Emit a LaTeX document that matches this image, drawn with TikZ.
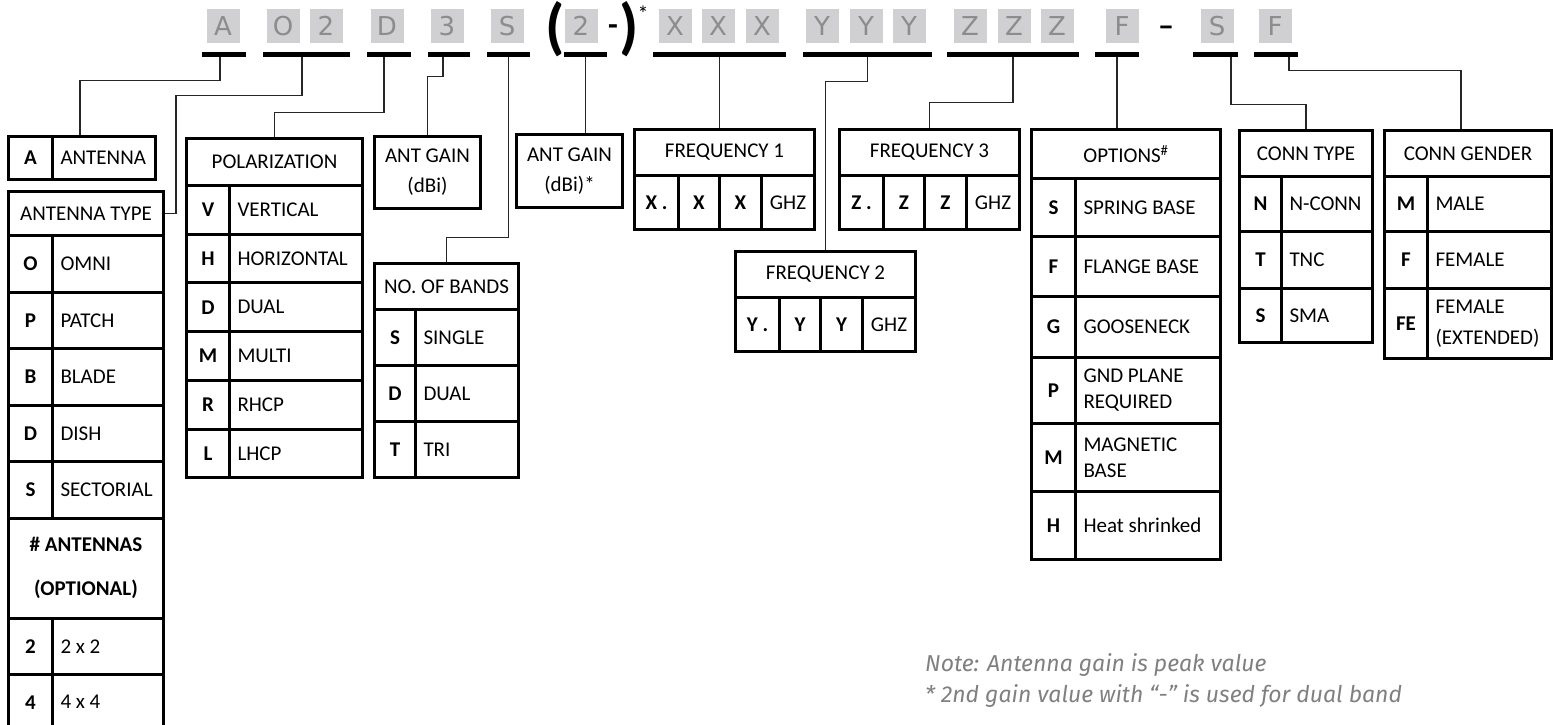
\documentclass[tikz,border=0pt]{standalone}
\usepackage{fontspec}
\setmainfont{Carlito}
\newfontfamily\codefont{DejaVu Sans}
\newfontfamily\notefont{Fira Sans}

\definecolor{codebg}{RGB}{208,208,210}
\definecolor{codefg}{RGB}{140,140,140}
\definecolor{notegray}{RGB}{128,128,128}
\newcommand\tabfont{\fontsize{21}{26}\selectfont}

\tikzset{
  codebox/.style={fill=codebg, text=codefg, minimum width=33pt, minimum height=34pt, inner sep=0pt, font=\codefont\fontsize{26}{26}\selectfont},
  bar/.style={fill=black, inner sep=0pt, minimum height=5pt},
  link/.style={line width=1.2pt, black!85},
  cell/.style={draw, line width=3pt, anchor=north west, inner xsep=8pt, inner ysep=0pt, font=\tabfont, align=flush left},
  keycell/.style={cell, align=center, inner xsep=3pt, font=\tabfont\bfseries},
  headcell/.style={cell, align=center, inner xsep=4pt},
  note/.style={anchor=base west, text=notegray, inner sep=0pt, font=\notefont\itshape\fontsize{23}{23}\selectfont},
}

\begin{document}
\begin{tikzpicture}[x=1pt,y=-1pt]
  \useasboundingbox (0,0) rectangle (1553,725);

  % part number code
  \node[codebox] (cA) at (223,26) {A};
  \node[codebox] (cO) at (283,26) {O};
  \node[codebox] (cTwo) at (326,26) {2};
  \node[codebox] (cD) at (387,26) {D};
  \node[codebox] (cThree) at (447,26) {3};
  \node[codebox] (cS) at (507,26) {S};
  \node[font=\bfseries\fontsize{62}{62}\selectfont, inner sep=0pt] (lparen) at (555,29) {(};
  \node[codebox] (cGain) at (581,26) {2};
  \node[font=\bfseries\fontsize{32}{32}\selectfont, inner sep=0pt] (dashA) at (613,30) {-};
  \node[font=\bfseries\fontsize{62}{62}\selectfont, inner sep=0pt] (rparen) at (629,29) {)};
  \node[font=\fontsize{22}{22}\selectfont, inner sep=0pt] (star) at (643,14) {*};
  \foreach \x [count=\i] in {675,718,762}
    \node[codebox] (cX\i) at (\x,26) {X};
  \foreach \x [count=\i] in {822,866,909}
    \node[codebox] (cY\i) at (\x,26) {Y};
  \foreach \x [count=\i] in {970,1014,1057}
    \node[codebox] (cZ\i) at (\x,26) {Z};
  \node[codebox] (cF) at (1122,26) {F};
  \node[font=\bfseries\fontsize{32}{32}\selectfont, inner sep=0pt] (dashB) at (1166,31) {–};
  \node[codebox] (cConn) at (1217,26) {S};
  \node[codebox] (cGen) at (1275,26) {F};

  % underlines
  \node[bar, minimum width=44] (uA) at (224,54.5) {};
  \node[bar, minimum width=87] (uO) at (306.5,54.5) {};
  \node[bar, minimum width=44] (uD) at (389,54.5) {};
  \node[bar, minimum width=42] (u3) at (449,54.5) {};
  \node[bar, minimum width=43] (uS) at (508.5,54.5) {};
  \node[bar, minimum width=43] (uG) at (585.5,54.5) {};
  \node[bar, minimum width=133] (uX) at (719.5,54.5) {};
  \node[bar, minimum width=129] (uY) at (867.5,54.5) {};
  \node[bar, minimum width=132] (uZ) at (1013,54.5) {};
  \node[bar, minimum width=44] (uF) at (1117,54.5) {};
  \node[bar, minimum width=45] (uC) at (1215.5,54.5) {};
  \node[bar, minimum width=44] (uN) at (1276,54.5) {};

  % antenna
  \node[keycell, minimum width=44, minimum height=43] (antK) at (7,135) {A};
  \node[cell, minimum height=43, text width=87] (antV) at (51,135) {ANTENNA};

  % antenna type
  \node[headcell, minimum width=155, minimum height=44.3] (typeHead) at (7,190) {ANTENNA TYPE};
  \foreach \k/\v [count=\i from 0] in {O/OMNI,P/PATCH,B/BLADE,D/DISH,S/SECTORIAL}{
    \node[keycell, minimum width=44, minimum height=56.5] (typeK\k) at (7,{234.3+56.5*\i}) {\k};
    \node[cell, minimum height=56.5, text width=95] (typeV\k) at (51,{234.3+56.5*\i}) {\v};
  }
  \node[headcell, font=\tabfont\bfseries, minimum width=155, minimum height=100.2] (typeOpt) at (7,516.8) {\# ANTENNAS\\[18pt](OPTIONAL)};
  \foreach \k [count=\i from 0] in {2,4}{
    \node[keycell, minimum width=44, minimum height=55.8] (typeK\k) at (7,{617+55.8*\i}) {\k};
    \node[cell, minimum height=55.8, text width=95] (typeV\k) at (51,{617+55.8*\i}) {\k\ x \k};
  }

  % polarization
  \node[headcell, minimum width=176, minimum height=47] (polHead) at (185,137) {POLARIZATION};
  \foreach \k/\v [count=\i from 0] in {V/VERTICAL,H/HORIZONTAL,D/DUAL,M/MULTI,R/RHCP,L/LHCP}{
    \node[keycell, minimum width=43, minimum height=48.7] (polK\k) at (185,{184+48.7*\i}) {\k};
    \node[cell, minimum height=48.7, text width=117] (polV\k) at (228,{184+48.7*\i}) {\v};
  }

  % gain and bands
  \node[headcell, minimum width=106, minimum height=72] (gainOne) at (373,135) {ANT GAIN\\[4pt](dBi)};
  \node[headcell, minimum width=144, minimum height=46] (bandHead) at (373,262) {NO. OF BANDS};
  \foreach \k/\v [count=\i from 0] in {S/SINGLE,D/DUAL,T/TRI}{
    \node[keycell, minimum width=41, minimum height=56] (bandK\k) at (373,{308+56*\i}) {\k};
    \node[cell, minimum height=56, text width=87] (bandV\k) at (414,{308+56*\i}) {\v};
  }
  \node[headcell, minimum width=106, minimum height=73] (gainTwo) at (515,133) {ANT GAIN\\[4pt](dBi)*};

  % frequencies
  \foreach \n/\L/\x/\y in {1/X/633/128,2/Y/734/250,3/Z/838/128}{
    \node[headcell, minimum width=180, minimum height=46] (freq\n) at (\x,\y) {FREQUENCY \n};
    \node[keycell, minimum width=44, minimum height=54] (freq\n-a) at (\x,{\y+46}) {\L\ .};
    \node[keycell, minimum width=41, minimum height=54] (freq\n-b) at ({\x+44},{\y+46}) {\L};
    \node[keycell, minimum width=42, minimum height=54] (freq\n-c) at ({\x+85},{\y+46}) {\L};
    \node[headcell, minimum width=53, minimum height=54] (freq\n-d) at ({\x+127},{\y+46}) {GHZ};
  }

  % options
  \node[headcell, minimum width=189, minimum height=49] (optHead) at (1030,128) {OPTIONS\textsuperscript{\#}};
  \foreach \k/\v/\y/\h in {S/SPRING BASE/177/58,F/FLANGE BASE/235/60,G/GOOSENECK/295/61,
      P/{GND PLANE\\REQUIRED}/356/66,M/{MAGNETIC\\BASE}/422/68,H/Heat shrinked/490/68}{
    \node[keycell, minimum width=44, minimum height=\h] (optK\k) at (1030,\y) {\k};
    \node[cell, minimum height=\h, text width=129] (optV\k) at (1074,\y) {\v};
  }

  % connector
  \node[headcell, minimum width=133, minimum height=46] (connHead) at (1238,129) {CONN TYPE};
  \foreach \k/\v/\y/\h in {N/N-CONN/175/55,T/TNC/230/57,S/SMA/287/54}{
    \node[keycell, minimum width=42, minimum height=\h] (connK\k) at (1238,\y) {\k};
    \node[cell, minimum height=\h, text width=75] (connV\k) at (1280,\y) {\v};
  }
  \node[headcell, minimum width=167, minimum height=46] (genHead) at (1383,129) {CONN GENDER};
  \foreach \k/\v/\y/\h in {M/MALE/175/55,F/FEMALE/230/57,FE/{FEMALE\\[5pt](EXTENDED)}/287/70}{
    \node[keycell, minimum width=43, minimum height=\h] (genK\k) at (1383,\y) {\k};
    \node[cell, minimum height=\h, text width=108] (genV\k) at (1426,\y) {\v};
  }

  % links
  \draw[link] ([xshift=-4pt]uA.south) -- ++(0,23) -| ([xshift=29pt]antV.north west);
  \draw[link] ([xshift=-4.5pt]uO.south) -- ++(0,38) -| ([xshift=11pt]typeHead.east) -- (typeHead.east);
  \draw[link] ([xshift=-5pt]uD.south) -- ++(0,55) -| (polHead.north);
  \draw[link] ([xshift=-6pt]u3.south) -- ++(0,19) -| (gainOne.north);
  \draw[link] (uS.south) -- ++(0,180) -| (bandHead.north);
  \draw[link] (uG.south) -- (uG.south |- gainTwo.north);
  \draw[link] (uX.south) -- (uX.south |- freq1.north);
  \draw[link] (uY.south) -- ++(0,24) -| (freq2.north);
  \draw[link] (uZ.south) -- ++(0,45) -| (freq3.north);
  \draw[link] (uF.south) -- (uF.south |- optHead.north);
  \draw[link] ([xshift=15.5pt]uC.south) -- ++(0,47) -| (connHead.north);
  \draw[link] ([xshift=13pt]uN.south) -- ++(0,13) -| ([xshift=-7pt]genHead.north);

  % notes
  \node[note] (noteA) at (925,671) {Note: Antenna gain is peak value};
  \node[note] (noteB) at (925,702) {* 2nd gain value with “-” is used for dual band};
\end{tikzpicture}
\end{document}
